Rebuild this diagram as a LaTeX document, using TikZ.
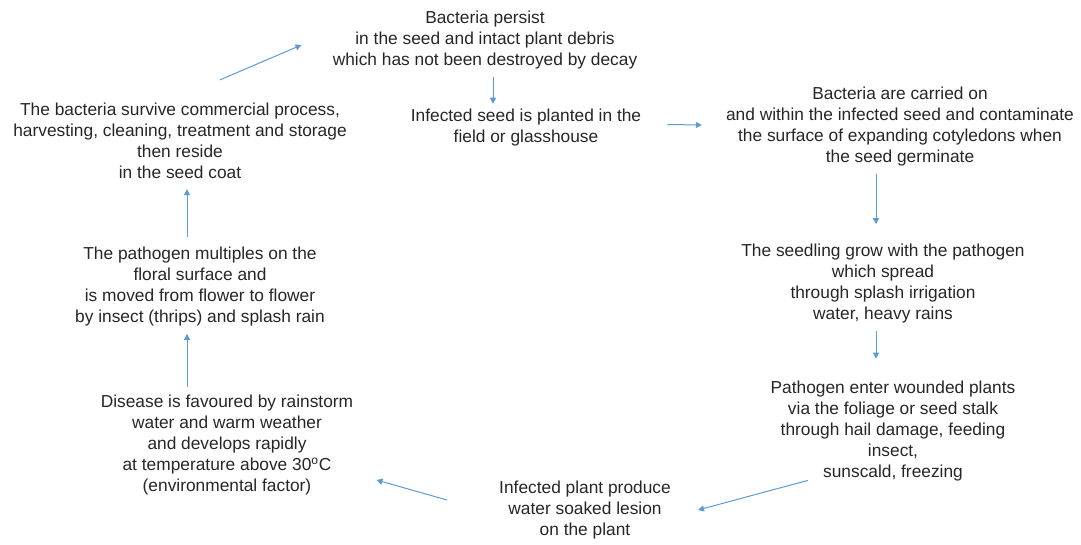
\documentclass[tikz,border=0pt]{standalone}
\usepackage{fontspec}
\setmainfont{Liberation Sans}
\usetikzlibrary{arrows.meta,positioning}
\definecolor{arrowblue}{RGB}{91,155,213}
\definecolor{textgray}{RGB}{38,38,38}

\begin{document}
\begin{tikzpicture}[x=0.75pt,y=-0.75pt,
    note/.style={align=center,inner sep=0pt,text=textgray,
      font=\fontsize{13}{15.75}\selectfont},
    flow/.style={-{Triangle[width=4.5pt,length=4.5pt]},draw=arrowblue,line width=0.75pt}]

    \useasboundingbox (0,0) rectangle (1081,545);

    \node[note] (persist)  at (485,40)    {Bacteria persist\\in the seed and intact plant debris\\which has not been destroyed by decay};
    \node[note] (planted)  at (526,127.5) {Infected seed is planted in the\\field or glasshouse};
    \node[note] (carried)  at (900,126.5) {Bacteria are carried on\\and within the infected seed and contaminate\\the surface of expanding cotyledons when\\the seed germinate};
    \node[note] (seedling) at (883,284)   {The seedling grow with the pathogen\\which spread\\through splash irrigation\\water, heavy rains};
    \node[note] (enter)    at (893,431)   {Pathogen enter wounded plants\\via the foliage or seed stalk\\through hail damage, feeding\\insect,\\sunscald, freezing};
    \node[note] (lesion)   at (585,510)   {Infected plant produce\\water soaked lesion\\on the plant};
    \node[note] (favoured) at (227,445)   {Disease is favoured by rainstorm\\water and warm weather\\and develops rapidly\\at temperature above 30\textsuperscript{o}C\\(environmental factor)};
    \node[note] (floral)   at (200,287)   {The pathogen multiples on the\\floral surface and\\is moved from flower to flower\\by insect (thrips) and splash rain};
    \node[note] (survive)  at (180,141)   {The bacteria survive commercial process,\\harvesting, cleaning, treatment and storage\\then reside\\in the seed coat};

    \draw[flow] ([shift={(40,-23)}]survive.north) -- ([shift={(-31,5)}]persist.west);
    \draw[flow] ([shift={(8,8)}]persist.south)    -- ([shift={(-33,-5)}]planted.north);
    \draw[flow] ([shift={(26,-3)}]planted.east)   -- ([shift={(-24,-1.5)}]carried.west);
    \draw[flow] ([shift={(-24,8)}]carried.south)  -- ([shift={(-7,-20)}]seedling.north);
    \draw[flow] ([shift={(-7,7)}]seedling.south)  -- ([shift={(-17,-22)}]enter.north);
    \draw[flow] ([shift={(-85,-1)}]enter.south)   -- ([shift={(27,0)}]lesion.east);
    \draw[flow] ([shift={(-52,-10)}]lesion.west)  -- ([shift={(23,35)}]favoured.east);
    \draw[flow] ([shift={(-40,-8)}]favoured.north) -- ([shift={(-13,7)}]floral.south);
    \draw[flow] ([shift={(-13,-10)}]floral.north) -- ([shift={(7,10)}]survive.south);
\end{tikzpicture}
\end{document}
